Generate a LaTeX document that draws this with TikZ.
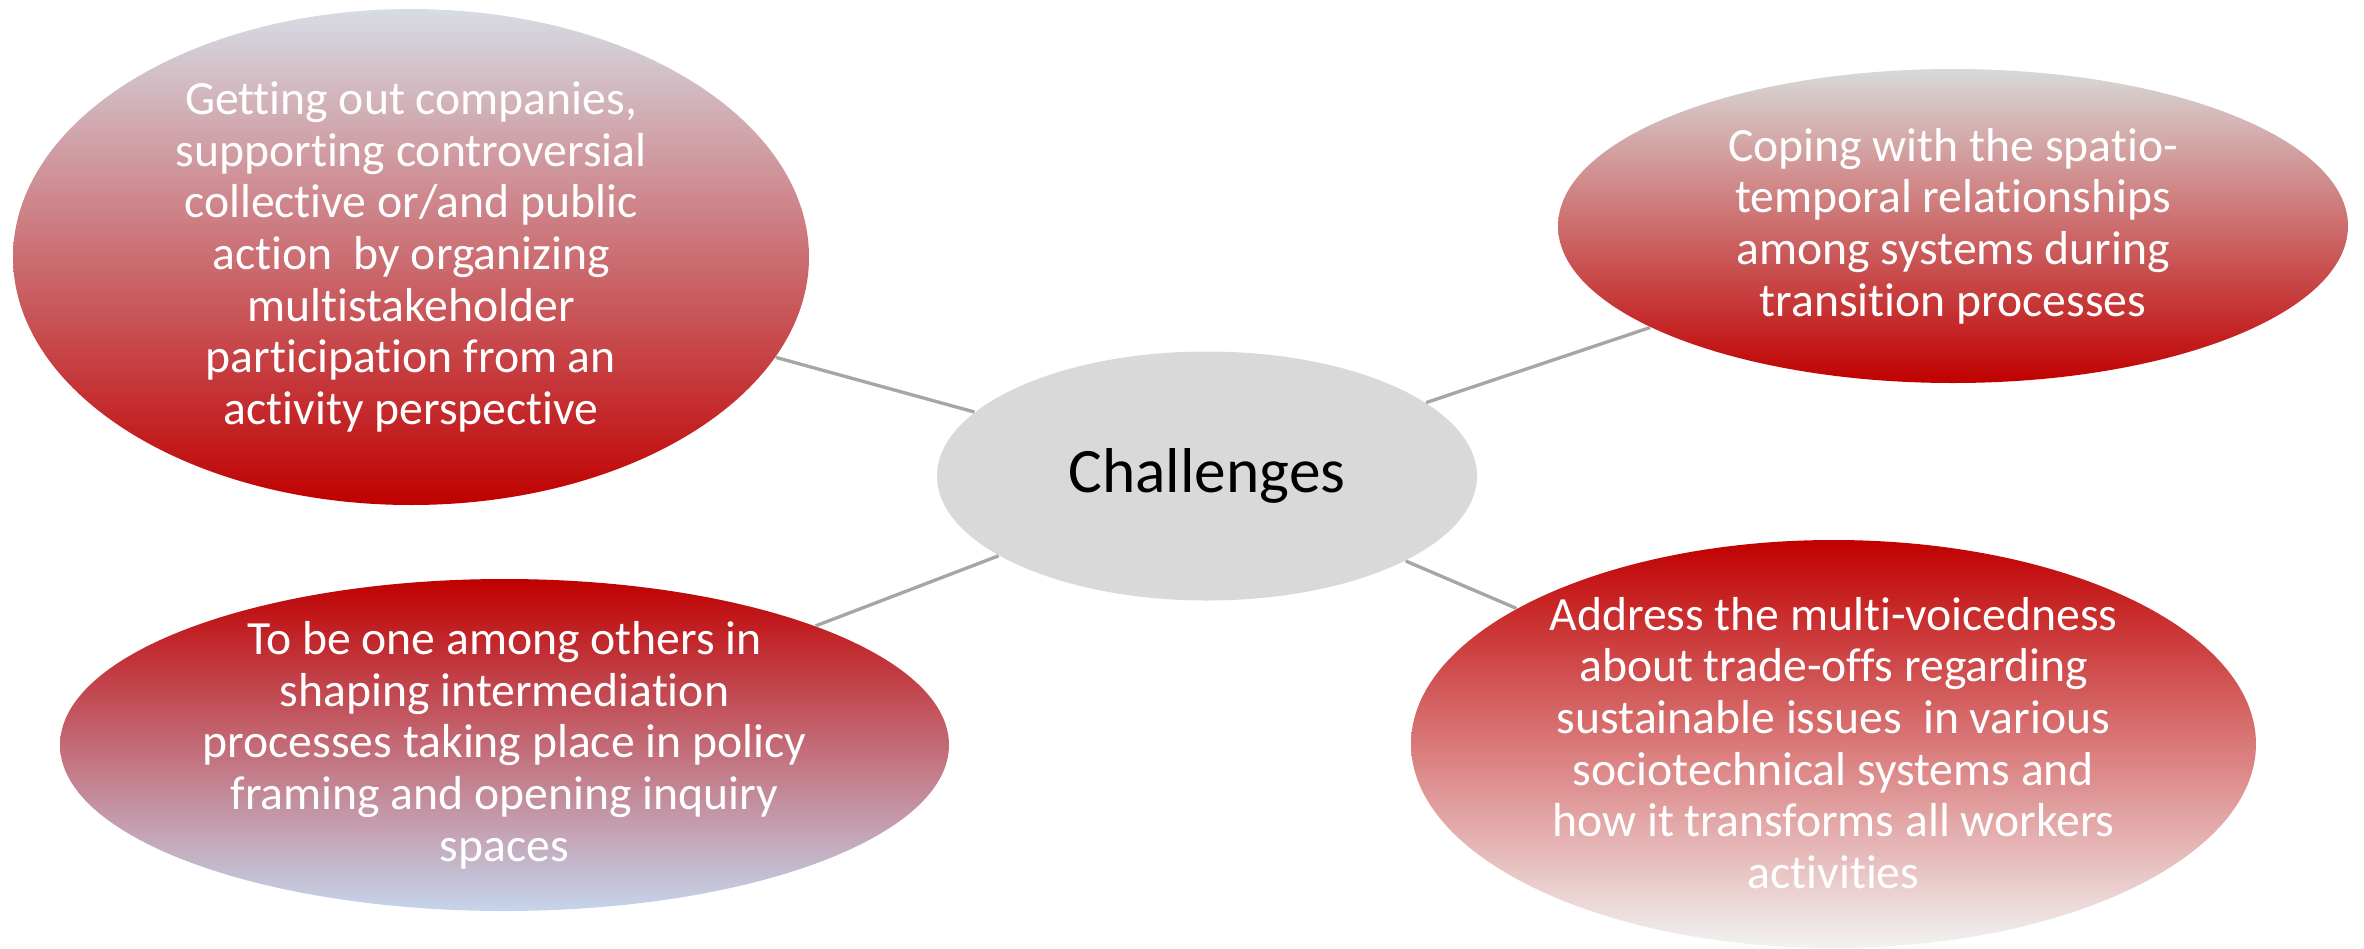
\documentclass[tikz,border=0pt]{standalone}
\usepackage{fontspec}
\setmainfont{Carlito}[Ligatures={NoCommon}]
\usetikzlibrary{shapes.geometric}
\definecolor{cred}{HTML}{C00000}
\definecolor{cgray}{HTML}{D9D9D9}
\definecolor{cbluegray}{HTML}{D6DCE5}
\definecolor{clightblue}{HTML}{C5D5EC}
\definecolor{cpale}{HTML}{F2F2F2}
\definecolor{clink}{HTML}{A6A6A6}
\tikzset{
  bubble/.style={ellipse, inner sep=0pt, draw=none},
  bubbletext/.style={text=white, align=center, inner sep=0pt, font=\fontsize{14.3}{15.5}\selectfont},
  link/.style={draw=clink, line width=1pt}
}
\begin{document}
\begin{tikzpicture}[x=0.3pt, y=-0.3pt]
\useasboundingbox (0,0) rectangle (2364,949);
\node[bubble, minimum width=238.8pt, minimum height=148.8pt, top color=cbluegray, bottom color=cred] (tl) at (411,257) {};
\node[bubble, minimum width=237pt, minimum height=94.2pt, top color=cgray, bottom color=cred] (tr) at (1953,226) {};
\node[bubble, minimum width=266.7pt, minimum height=99.6pt, top color=cred, bottom color=clightblue] (bl) at (504.5,745) {};
\node[bubble, minimum width=253.5pt, minimum height=122.4pt, top color=cred, bottom color=cpale] (br) at (1833.5,744) {};
\node[bubble, minimum width=162pt, minimum height=74.7pt, fill=cgray] (c) at (1207,476) {};
\draw[link] (c) -- (tl);
\draw[link] (c) -- (tr);
\draw[link] (c) -- (bl);
\draw[link] (c) -- (br);
\node[inner sep=0pt, font=\fontsize{19}{22}\selectfont] (ctext) at (c.center) {Challenges};
\node[bubbletext] (tltext) at (tl.center) {Getting out companies,\\supporting controversial\\collective or/and public\\action\ \ by organizing\\multistakeholder\\participation from an\\activity perspective};
\node[bubbletext] (trtext) at (tr.center) {Coping with the spatio-\\temporal relationships\\among systems during\\transition processes};
\node[bubbletext] (bltext) at (bl.center) {To be one among others in\\shaping intermediation\\processes taking place in policy\\framing and opening inquiry\\spaces};
\node[bubbletext] (brtext) at ([yshift=0.3pt]br.center) {Address the multi-voicedness\\about trade-offs regarding\\sustainable issues\ \ in various\\sociotechnical systems and\\how it transforms all workers\\activities};
\end{tikzpicture}
\end{document}
